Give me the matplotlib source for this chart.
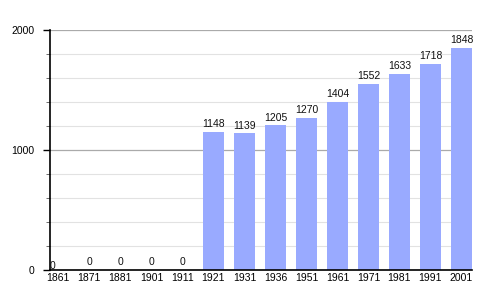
import matplotlib
matplotlib.use("Agg")
from matplotlib import pyplot as plt
from matplotlib.ticker import MultipleLocator

years = ['1861', '1871', '1881', '1901', '1911', '1921', '1931',
         '1936', '1951', '1961', '1971', '1981', '1991', '2001']
population = [0, 0, 0, 0, 0, 1148, 1139, 1205, 1270, 1404, 1552, 1633, 1718, 1848]

plt.rcParams['font.family'] = ['Liberation Sans', 'DejaVu Sans']

fig = plt.figure(figsize=(5, 3), dpi=100)
ax = fig.add_axes([0.1, 0.1, 0.844, 0.8])

x = list(range(len(years)))
ax.bar(x, population, width=0.68, color='#99aaff', zorder=2)

# value labels above the bars
for i, v in enumerate(population):
    if i == 0:
        ax.annotate(str(v), (i - 0.27, 0), xytext=(0, -1), textcoords='offset points',
                    ha='left', va='bottom', fontsize=7.5, color='#111111')
    else:
        ax.annotate(str(v), (i, v), xytext=(0, 2), textcoords='offset points',
                    ha='center', va='bottom', fontsize=7.5, color='#111111')

ax.set_xlim(-0.27, 13.34)
ax.set_ylim(0, 2000)
ax.set_xticks(x)
ax.set_xticklabels(years, fontsize=7.5)
ax.tick_params(axis='x', length=0, pad=2.5)

ax.yaxis.set_major_locator(MultipleLocator(1000))
ax.yaxis.set_minor_locator(MultipleLocator(200))
ax.tick_params(axis='y', which='major', length=5, width=1, labelsize=7.5, pad=6)
ax.tick_params(axis='y', which='minor', length=3, width=0.6, color='#555555')

ax.grid(axis='y', which='major', color='#aaaaaa', linewidth=0.9, zorder=1)
ax.grid(axis='y', which='minor', color='#e2e2e2', linewidth=0.8, zorder=1)
ax.set_axisbelow(True)

for s in ['top', 'right']:
    ax.spines[s].set_visible(False)
ax.spines['left'].set_linewidth(1.2)
ax.spines['bottom'].set_linewidth(1.2)
ax.spines['bottom'].set_zorder(3)

fig.savefig('out.png', dpi=100)
